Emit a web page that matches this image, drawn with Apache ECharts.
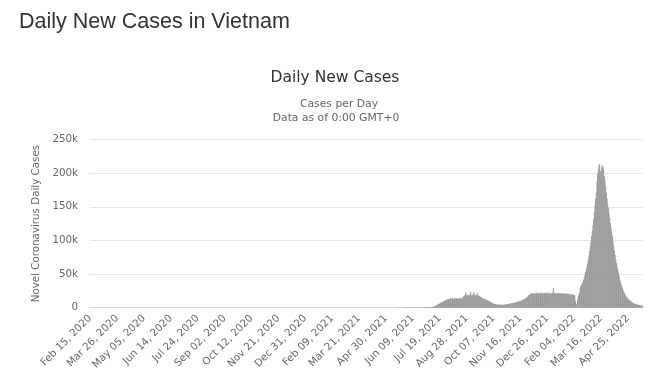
<!DOCTYPE html>
<html>
<head>
<meta charset="utf-8">
<script src="https://cdn.jsdelivr.net/npm/echarts@6/dist/echarts.min.js"></script>
<style>
html,body{margin:0;padding:0;background:#fff;}
#chart{width:650px;height:383px;}
</style>
</head>
<body>
<div id="chart"></div>
<script>
// ---- Data (daily new cases) ----
const startDay = '2020-02-15';
const feb2020 = [0,0,0,0,0,0,0,0,0,0,0,0,0,0,0];
const mar2020 = [0,0,0,0,0,1,1,3,9,1,8,8,3,6,5,4,5,8,9,9,7,10,10,3,7,7,6,10,5,9,8];
const apr2020 = [10,6,15,3,3,0,4,4,2,1,1,0,0,2,2,0,0,0,0,0,0,2,0,0,0,0,0,0,0,0];
const may2020 = [0,0,0,0,0,0,0,0,0,0,0,0,0,0,6,0,0,0,0,0,0,2,0,0,0,0,0,0,0,0,0];
const jun2020 = [0,0,0,0,0,0,0,0,0,0,0,3,0,0,0,0,0,0,2,0,0,0,0,0,0,0,0,0,0,0];
const jul2020 = [0,0,0,0,0,0,0,0,0,0,0,0,0,0,0,0,0,0,0,0,0,0,0,0,2,1,11,9,6,9,15];
const aug2020 = [45,0,21,16,31,46,33,21,41,6,20,15,37,6,42,15,0,8,3,12,13,11,4,0,1,12,0,0,0,0,0];
const sep2020 = [0,0,0,2,0,0,0,0,0,0,0,0,0,0,0,0,0,0,0,0,0,0,0,0,0,0,0,0,0,0];
const oct2020 = [0,0,0,0,0,0,0,0,0,0,0,0,0,0,0,0,0,0,0,0,0,0,0,0,0,0,0,0,0,0,0];
const nov2020 = [0,0,0,0,0,0,0,0,0,0,0,0,0,0,0,0,0,0,0,0,0,0,0,0,0,0,0,0,3,0];
const dec2020 = [0,0,0,0,0,0,0,0,0,0,0,0,0,0,0,0,0,0,0,0,0,0,0,0,0,0,0,0,0,0,0];
const jan2021 = [0,0,0,0,0,0,0,0,0,0,0,0,0,0,0,0,0,0,0,0,0,0,0,0,0,0,0,84,0,84,37];
const feb2021 = [55,0,40,28,22,29,7,31,24,18,37,8,0,6,0,38,34,18,9,5,0,0,0,0,3,1,2,0];
const mar2021 = [0,0,0,0,0,0,0,0,0,0,0,0,0,0,0,0,0,0,0,0,0,0,0,0,0,0,0,0,0,0,0];
const apr2021 = [0,0,0,0,0,0,0,0,0,0,0,0,0,0,0,0,0,0,0,0,0,0,0,0,0,0,0,0,4,8];
const may2021 = [3,22,15,34,28,52,46,49,46,31,56,83,51,55,130,59,180,208,114,171,66,101,92,94,83,127,96,193,217,119,240];
const jun2021 = [223,211,206,204,185,245,318,299,237,222,241,280,301,168,303,412,280,445,296,357,430,490,296,468,450,493,350,441,502,478];
const jul2021 = [450,520,700,830,690,580,770,1000,1240,1700,2150,2500,2900,3400,4200,4900,5300,5900,6300,7100,7600,8100,8600,9000,9500,10100,10600,11200,11800,12300,12600];
const aug2021 = [13100,12700,13400,13600,12900,13900,14200,13300,12800,13700,14100,13800,13500,14300,13200,12900,13800,14400,14100,13600,14000,15200,16300,17500,18200,19600,22800,18400,17800,19200,18700];
const sep2021 = [19400,18600,24100,17900,19800,18900,20600,23500,18200,19100,17600,18800,22400,17400,18300,16900,17200,15800,15400,14300,13800,13200,13600,12700,12100,11500,11800,10900,10400,9900];
const oct2021 = [9400,8800,8300,7600,7100,6500,6000,5600,5300,5100,4900,4700,4600,4500,4400,4300,4400,4200,4300,4100,4200,4400,4500,4700,4900,5100,5300,5400,5600,5800,5900];
const nov2021 = [6100,6300,6500,6700,6900,7100,7300,7600,7900,8200,8500,8800,9100,9500,9800,10100,10400,10900,11400,11900,12500,13100,13700,14300,15000,15900,16800,17800,18800,19700];
const dec2021 = [20300,21100,20600,21400,20900,21800,21200,20700,21600,22100,21300,20800,21500,22300,21700,21000,21900,22400,21600,20900,21400,22000,21300,21800,22500,21200,20700,21900,22600,21400,20800];
const jan2022 = [21300,20600,21900,29200,21700,22300,21100,20800,21600,22000,21400,20900,21700,21200,20600,21300,21800,20700,21100,21500,20800,20400,21000,21200,20600,20300,20900,20500,20100,19800,19600];
const feb2022 = [19500,19900,19200,18800,18300,10200,6100,4300,11800,16900,19400,22800,29600,32400,33800,35900,38200,41300,44700,48600,52900,56800,60700,66200,71800,77900,84600,90800];
const mar2022 = [98300,106400,114200,122900,131500,141800,152300,162100,171400,187600,199200,206300,211800,213400,203700,199800,208200,211300,209700,204900,195800,188700,180200,171300,162800,155100,148200,140600,133100,125900,119200];
const apr2022 = [112800,105900,98400,91200,84600,78300,72100,66400,61200,56300,51800,47600,42300,38400,35100,32000,28900,26100,23800,21700,19800,17900,16200,14600,13500,12500,11600,10900,10100,9200];
const may2022 = [8600,7700,7100,6600,6100,5600,5200,4900,4600,4400,4200,4000,3800,3600,3400,3200,3000];

const yTicks = [0, 50000, 100000, 150000, 200000, 250000];
const yTickLabels = ['0', '50k', '100k', '150k', '200k', '250k'];
const monthNames = ['Jan','Feb','Mar','Apr','May','Jun','Jul','Aug','Sep','Oct','Nov','Dec'];

// ---- Build series & categories ----
const cases = [].concat(
  feb2020, mar2020, apr2020, may2020, jun2020, jul2020, aug2020, sep2020, oct2020, nov2020, dec2020,
  jan2021, feb2021, mar2021, apr2021, may2021, jun2021, jul2021, aug2021, sep2021, oct2021, nov2021, dec2021,
  jan2022, feb2022, mar2022, apr2022, may2022
);
const t0 = Date.parse(startDay + 'T00:00:00Z');
const categories = cases.map((_, i) => {
  const d = new Date(t0 + i * 86400000);
  const dd = String(d.getUTCDate()).padStart(2, '0');
  return monthNames[d.getUTCMonth()] + ' ' + dd + ', ' + d.getUTCFullYear();
});

const chart = echarts.init(document.getElementById('chart'), null, {renderer: 'canvas'});
const smallFont = 'DejaVu Sans';
chart.setOption({
  animation: false,
  backgroundColor: '#ffffff',
  graphic: [
    {type: 'text', left: 19, top: 11, style: {text: 'Daily New Cases in Vietnam', font: '21.5px "Liberation Sans"', fill: '#333333'}},
    {type: 'text', style: {text: 'Daily New Cases', x: 335, y: 78, align: 'center', verticalAlign: 'middle', font: '15.5px "DejaVu Sans"', fill: '#333333'}},
    {type: 'text', style: {text: 'Cases per Day', x: 339, y: 104, align: 'center', verticalAlign: 'middle', font: '10.8px "DejaVu Sans"', fill: '#666666'}},
    {type: 'text', style: {text: 'Data as of 0:00 GMT+0', x: 336, y: 118, align: 'center', verticalAlign: 'middle', font: '10.8px "DejaVu Sans"', fill: '#666666'}}
  ],
  grid: {left: 90, right: 7, top: 139.5, bottom: 75.3, containLabel: false},
  xAxis: {
    type: 'category',
    data: categories,
    boundaryGap: true,
    axisLine: {show: true, lineStyle: {color: '#ccd6eb', width: 1}},
    axisTick: {show: false},
    axisLabel: {interval: 39, rotate: 45, color: '#666666', fontFamily: smallFont, fontSize: 10.3, margin: 9}
  },
  yAxis: {
    type: 'value',
    min: yTicks[0],
    max: yTicks[yTicks.length - 1],
    interval: yTicks[1] - yTicks[0],
    name: 'Novel Coronavirus Daily Cases',
    nameLocation: 'middle',
    nameRotate: 90,
    nameGap: 44,
    nameTextStyle: {color: '#666666', fontFamily: smallFont, fontSize: 10.3},
    axisLine: {show: false},
    axisTick: {show: false},
    splitLine: {lineStyle: {color: '#e6e6e6', width: 1}},
    axisLabel: {
      color: '#666666', fontFamily: smallFont, fontSize: 10.3, margin: 12,
      formatter: v => yTickLabels[yTicks.indexOf(v)]
    }
  },
  series: [{
    type: 'bar',
    data: cases,
    itemStyle: {color: '#999999'},
    barCategoryGap: '15%'
  }]
});
</script>
</body>
</html>
